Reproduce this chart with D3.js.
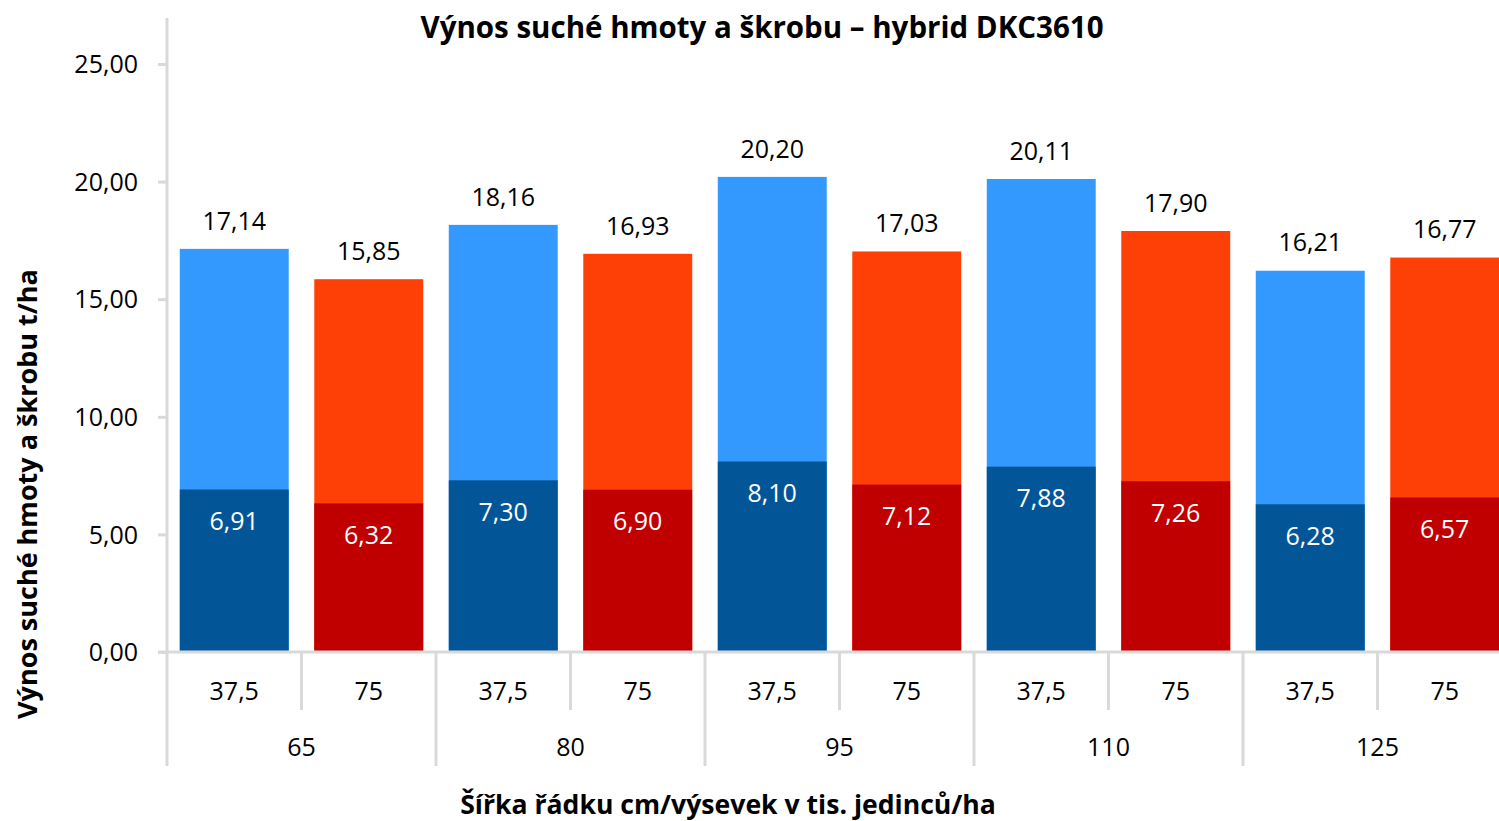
<!DOCTYPE html>
<html>
<head>
<meta charset="utf-8">
<script src="https://cdn.jsdelivr.net/npm/d3@7"></script>
<style>
  body { margin: 0; background: #fff; }
  svg text { font-family: "Open Sans", "DejaVu Sans", sans-serif; fill: #000; }
  .tick line { stroke: #d9d9d9; stroke-width: 3; }
</style>
</head>
<body>
<svg id="chart" width="1499" height="821"></svg>
<script>
// data
var groups = ['65', '80', '95', '110', '125'];
var rowWidths = ['37,5', '75'];
var totalYield = [17.14, 15.85, 18.16, 16.93, 20.20, 17.03, 20.11, 17.90, 16.21, 16.77];
var starchYield = [6.91, 6.32, 7.30, 6.90, 8.10, 7.12, 7.88, 7.26, 6.28, 6.57];
var yTicks = [0, 5, 10, 15, 20, 25];

var lightColors = ['#3399ff', '#ff4006'];
var darkColors = ['#025698', '#c00000'];

var rows = [];
groups.forEach(function(g, gi) {
    rowWidths.forEach(function(w, wi) {
        var i = gi * rowWidths.length + wi;
        rows.push({key: g + '|' + w, group: g, width: w, sub: wi,
                   total: totalYield[i], starch: starchYield[i]});
    });
});

var plot = {left: 167, right: 1512, top: 18, bottom: 652};
var fmt = function(v) { return d3.format('.2f')(v).replace('.', ','); };

var svg = d3.select('#chart');

var x = d3.scaleBand()
    .domain(rows.map(function(d) { return d.key; }))
    .range([plot.left, plot.right])
    .paddingInner(0.19)
    .paddingOuter(0.095);

var y = d3.scaleLinear()
    .domain([0, 25])
    .range([plot.bottom, 64]);

// y axis
var yAxis = svg.append('g')
    .attr('transform', 'translate(' + plot.left + ',0)')
    .call(d3.axisLeft(y).tickValues(yTicks).tickSize(9).tickPadding(20).tickFormat(fmt));
yAxis.select('.domain').remove();
yAxis.selectAll('text').style('font-size', '25px').attr('dy', '0.35em');

// bars: total (light) then starch (dark) over it
var bar = svg.selectAll('g.bar')
    .data(rows)
    .enter().append('g')
    .attr('class', 'bar');

bar.append('rect')
    .attr('x', function(d) { return x(d.key); })
    .attr('width', x.bandwidth())
    .attr('y', function(d) { return y(d.total); })
    .attr('height', function(d) { return y(0) - y(d.total); })
    .attr('fill', function(d) { return lightColors[d.sub]; });

bar.append('rect')
    .attr('x', function(d) { return x(d.key); })
    .attr('width', x.bandwidth())
    .attr('y', function(d) { return y(d.starch); })
    .attr('height', function(d) { return y(0) - y(d.starch); })
    .attr('fill', function(d) { return darkColors[d.sub]; });

bar.append('text')
    .attr('x', function(d) { return x(d.key) + x.bandwidth() / 2; })
    .attr('y', function(d) { return y(d.total) - 28; })
    .attr('dy', '0.35em')
    .attr('text-anchor', 'middle')
    .style('font-size', '25px')
    .text(function(d) { return fmt(d.total); });

bar.append('text')
    .attr('x', function(d) { return x(d.key) + x.bandwidth() / 2; })
    .attr('y', function(d) { return y(d.starch) + 32; })
    .attr('dy', '0.35em')
    .attr('text-anchor', 'middle')
    .style('font-size', '25px')
    .style('fill', '#fff')
    .text(function(d) { return fmt(d.starch); });

// axis frame lines
var gray = '#d9d9d9';
svg.append('line')
    .attr('x1', plot.left).attr('x2', plot.left)
    .attr('y1', plot.top).attr('y2', 766)
    .attr('stroke', gray).attr('stroke-width', 3);
svg.append('line')
    .attr('x1', 158).attr('x2', plot.right)
    .attr('y1', plot.bottom).attr('y2', plot.bottom)
    .attr('stroke', gray).attr('stroke-width', 3);

// category separators (short between widths, long between groups)
var step = x.step();
d3.range(1, rows.length + 1).forEach(function(i) {
    svg.append('line')
        .attr('x1', plot.left + i * step).attr('x2', plot.left + i * step)
        .attr('y1', plot.bottom).attr('y2', i % 2 ? 710 : 766)
        .attr('stroke', gray).attr('stroke-width', 3);
});

// row width labels
svg.selectAll('text.sub')
    .data(rows)
    .enter().append('text')
    .attr('class', 'sub')
    .attr('x', function(d) { return x(d.key) + x.bandwidth() / 2; })
    .attr('y', 691)
    .attr('dy', '0.35em')
    .attr('text-anchor', 'middle')
    .style('font-size', '25px')
    .text(function(d) { return d.width; });

// group labels
svg.selectAll('text.grp')
    .data(groups)
    .enter().append('text')
    .attr('class', 'grp')
    .attr('x', function(d, i) { return plot.left + (i * 2 + 1) * step; })
    .attr('y', 747)
    .attr('dy', '0.35em')
    .attr('text-anchor', 'middle')
    .style('font-size', '25px')
    .text(function(d) { return d; });

// titles
svg.append('text')
    .attr('x', 762).attr('y', 28).attr('dy', '0.35em')
    .attr('text-anchor', 'middle')
    .style('font-size', '29.5px').style('font-weight', 'bold')
    .text('Výnos suché hmoty a škrobu – hybrid DKC3610');

svg.append('text')
    .attr('x', 728).attr('y', 805).attr('dy', '0.35em')
    .attr('text-anchor', 'middle')
    .style('font-size', '26.6px').style('font-weight', 'bold')
    .text('Šířka řádku cm/výsevek v tis. jedinců/ha');

svg.append('text')
    .attr('transform', 'translate(28,494) rotate(-90)')
    .attr('dy', '0.35em')
    .attr('text-anchor', 'middle')
    .style('font-size', '27px').style('font-weight', 'bold')
    .text('Výnos suché hmoty a škrobu t/ha');
</script>
</body>
</html>
